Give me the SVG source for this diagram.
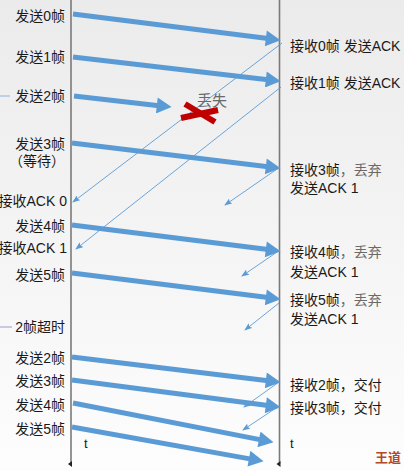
<svg xmlns="http://www.w3.org/2000/svg" width="404" height="471" viewBox="0 0 404 471">
<defs>
<linearGradient id="bg" x1="0" y1="0" x2="0" y2="1">
<stop offset="0" stop-color="#ebebeb"/>
<stop offset="1" stop-color="#fdfdfd"/>
</linearGradient>
<marker id="big" markerUnits="userSpaceOnUse" markerWidth="16" markerHeight="16" refX="2" refY="7" orient="auto" viewBox="0 0 13 14">
<path d="M0,0 L13,7 L0,14 Z" fill="#5b9bd5"/>
</marker>
<marker id="small" markerUnits="userSpaceOnUse" markerWidth="8" markerHeight="6" refX="7" refY="3" orient="auto" viewBox="0 0 8 6">
<path d="M0,0 L8,3 L0,6 L1.5,3 Z" fill="#5b9bd5"/>
</marker>
<marker id="down" markerUnits="userSpaceOnUse" markerWidth="6" markerHeight="6" refX="3" refY="1" orient="auto-start-reverse" viewBox="0 0 6 6">
<path d="M0,0 L6,0 L3,4 Z" fill="#222"/>
</marker>
</defs>
<style>
text{font-family:"Liberation Sans","Noto Sans CJK SC",sans-serif;font-size:14px;fill:#1a1a1a}
.l{text-anchor:end}
.g{fill:#6a6a6a}
.axis{stroke:#7a7a7a;stroke-width:1.6}
.thick{stroke:#5b9bd5;stroke-width:5;fill:none;marker-end:url(#big)}
.thin{stroke:#5b9bd5;stroke-width:0.9;fill:none;marker-end:url(#small)}
.x{stroke:#c00000;stroke-width:6}
</style>
<rect width="404" height="471" fill="url(#bg)"/>

<g id="timelines">
<line class="axis" x1="71" y1="0" x2="71" y2="464" marker-end="url(#down)"/>
<line class="axis" x1="279.5" y1="0" x2="279.5" y2="464" marker-end="url(#down)"/>
<line x1="0" y1="96" x2="10" y2="96" stroke="#8db3e2" stroke-width="1"/>
<line x1="0" y1="327" x2="12" y2="327" stroke="#9a9ad0" stroke-width="1"/>
</g>

<g id="connectors">
<line class="thick" x1="73" y1="14" x2="268.1" y2="38.6"/>
<line class="thick" x1="73" y1="57" x2="268.1" y2="79.7"/>
<line class="thick" x1="74" y1="96" x2="159.1" y2="105.7"/>
<line class="thick" x1="72" y1="143" x2="268.1" y2="166.7"/>
<line class="thick" x1="72" y1="225" x2="268.1" y2="249.6"/>
<line class="thick" x1="72" y1="273" x2="268.1" y2="297.6"/>
<line class="thick" x1="72" y1="357" x2="268.1" y2="380.7"/>
<line class="thick" x1="72" y1="380" x2="268.1" y2="405.6"/>
<line class="thick" x1="73" y1="403" x2="261.2" y2="439.9"/>
<line class="thick" x1="72" y1="427" x2="251.2" y2="459.1"/>

<line class="thin" x1="282" y1="43" x2="73" y2="202"/>
<line class="thin" x1="281" y1="87" x2="76" y2="249"/>
<line class="thin" x1="280" y1="167" x2="225" y2="205"/>
<line class="thin" x1="280" y1="250" x2="242" y2="276"/>
<line class="thin" x1="279" y1="303" x2="245" y2="330"/>
<line class="thin" x1="279" y1="382" x2="244" y2="407"/>
<line class="thin" x1="279" y1="406" x2="243" y2="430"/>
</g>

<g id="lost">
<line class="x" x1="185" y1="104" x2="215" y2="122"/>
<line class="x" x1="181" y1="118" x2="218" y2="110"/>
<text x="197" y="106" class="g" style="font-size:15px">丢失</text>
</g>

<g id="sender">
<text class="l" x="65" y="21">发送0帧</text>
<text class="l" x="65" y="62">发送1帧</text>
<text class="l" x="65" y="101">发送2帧</text>
<text class="l" x="65" y="149">发送3帧</text>
<text class="l" x="65" y="166">（等待）</text>
<text class="l" x="67" y="206">接收ACK 0</text>
<text class="l" x="65" y="231">发送4帧</text>
<text class="l" x="67" y="253">接收ACK 1</text>
<text class="l" x="65" y="280">发送5帧</text>
<text class="l" x="65" y="332">2帧超时</text>
<text class="l" x="65" y="363">发送2帧</text>
<text class="l" x="65" y="386">发送3帧</text>
<text class="l" x="65" y="410">发送4帧</text>
<text class="l" x="65" y="434">发送5帧</text>
<text x="84" y="448" style="font-size:13px">t</text>
</g>

<g id="receiver">
<text x="290" y="51">接收0帧 发送ACK</text>
<text x="290" y="88">接收1帧 发送ACK</text>
<text x="290" y="175">接收3帧<tspan class="g">，丢弃</tspan></text>
<text x="290" y="193">发送ACK 1</text>
<text x="290" y="257">接收4帧<tspan class="g">，丢弃</tspan></text>
<text x="290" y="277">发送ACK 1</text>
<text x="290" y="305">接收5帧<tspan class="g">，丢弃</tspan></text>
<text x="290" y="324">发送ACK 1</text>
<text x="290" y="390">接收2帧，交付</text>
<text x="290" y="413">接收3帧，交付</text>
<text x="290" y="448" style="font-size:13px">t</text>
</g>

<g id="brand">
<text x="375" y="462" style="font-size:13px;font-weight:bold;fill:#b04a2a">王道</text>
</g>
</svg>
